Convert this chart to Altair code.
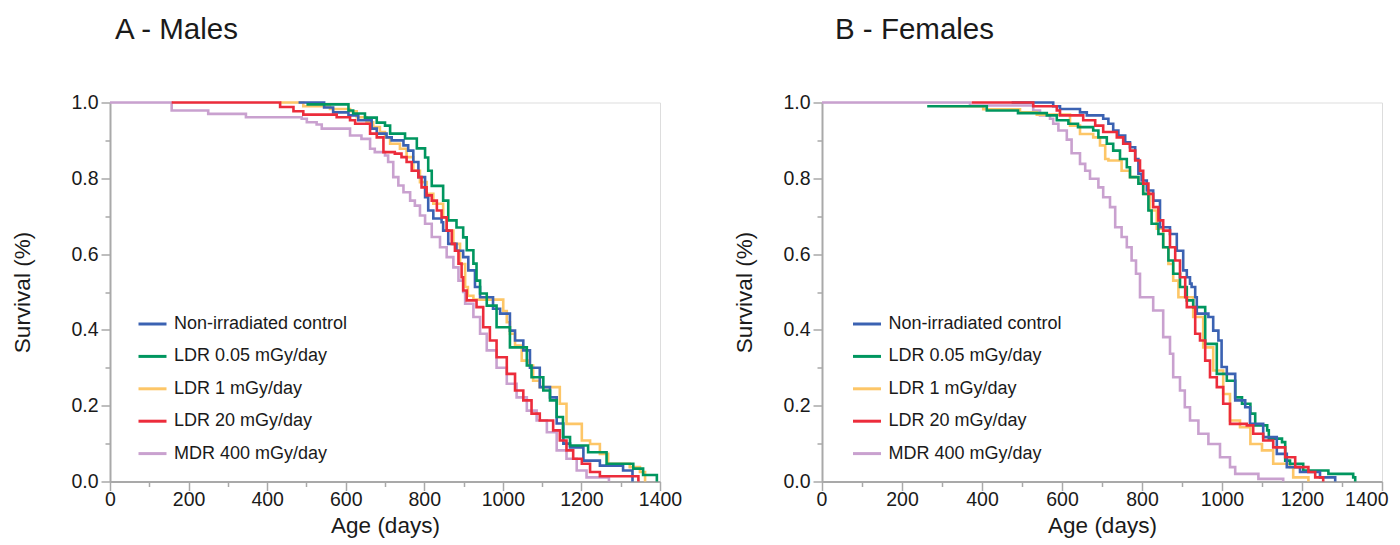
import altair as alt
import pandas as pd

GROUPS = ["Non-irradiated control", "LDR 0.05 mGy/day", "LDR 1 mGy/day",
          "LDR 20 mGy/day", "MDR 400 mGy/day"]
COLORS = ["#3b62b2", "#00965f", "#fdc667", "#ec2c3b", "#c9a1cf"]

# ---------------- Panel A - Males ----------------
A_CTRL_DAY = [480, 545, 568, 607, 632, 666, 679, 704, 717, 747, 759, 772, 785, 802, 810, 823, 844, 848, 861, 882, 899, 912, 929, 942, 975, 993, 1018, 1031, 1052, 1069, 1094, 1120, 1137, 1154, 1171, 1205, 1247, 1306, 1330]
A_CTRL_SURV = [1.0, 0.987, 0.974, 0.966, 0.953, 0.931, 0.918, 0.908, 0.9, 0.887, 0.873, 0.843, 0.803, 0.75, 0.715, 0.694, 0.684, 0.662, 0.627, 0.609, 0.592, 0.557, 0.513, 0.486, 0.456, 0.443, 0.398, 0.372, 0.346, 0.30, 0.249, 0.222, 0.153, 0.10, 0.09, 0.055, 0.042, 0.029, 0.0]

A_LDR005_DAY = [500, 607, 619, 649, 679, 700, 713, 751, 781, 802, 810, 819, 848, 861, 882, 899, 908, 925, 933, 942, 959, 984, 1018, 1061, 1073, 1103, 1120, 1137, 1153, 1171, 1217, 1264, 1332, 1357, 1392]
A_LDR005_SURV = [0.995, 0.979, 0.971, 0.96, 0.947, 0.939, 0.918, 0.905, 0.879, 0.855, 0.82, 0.78, 0.741, 0.689, 0.67, 0.644, 0.61, 0.575, 0.53, 0.496, 0.464, 0.407, 0.354, 0.306, 0.275, 0.24, 0.214, 0.17, 0.117, 0.095, 0.077, 0.047, 0.034, 0.017, 0.0]

A_LDR1_DAY = [433, 492, 560, 611, 628, 653, 670, 687, 700, 713, 738, 755, 772, 789, 806, 823, 848, 857, 874, 891, 904, 911, 925, 1001, 1010, 1018, 1031, 1048, 1065, 1077, 1094, 1145, 1162, 1201, 1222, 1247, 1268, 1323, 1349, 1362]
A_LDR1_SURV = [1.0, 0.99, 0.983, 0.977, 0.961, 0.948, 0.935, 0.922, 0.908, 0.891, 0.878, 0.856, 0.82, 0.79, 0.759, 0.733, 0.697, 0.662, 0.627, 0.574, 0.513, 0.49, 0.48, 0.45, 0.42, 0.39, 0.359, 0.319, 0.306, 0.266, 0.249, 0.205, 0.152, 0.108, 0.099, 0.073, 0.047, 0.038, 0.025, 0.0]

A_LDR20_DAY = [157, 433, 467, 492, 577, 611, 624, 662, 679, 696, 725, 742, 755, 768, 785, 793, 806, 819, 832, 844, 857, 870, 878, 887, 895, 899, 908, 933, 950, 967, 984, 1010, 1031, 1052, 1073, 1094, 1128, 1145, 1162, 1179, 1201, 1222, 1247, 1345]
A_LDR20_SURV = [1.0, 0.988, 0.977, 0.968, 0.961, 0.953, 0.944, 0.918, 0.908, 0.869, 0.865, 0.856, 0.843, 0.82, 0.803, 0.776, 0.755, 0.741, 0.715, 0.697, 0.662, 0.627, 0.609, 0.575, 0.539, 0.504, 0.478, 0.46, 0.407, 0.372, 0.328, 0.284, 0.24, 0.214, 0.179, 0.161, 0.135, 0.108, 0.082, 0.06, 0.047, 0.025, 0.014, 0.0]

A_MDR400_DAY = [0, 157, 250, 346, 488, 501, 526, 539, 611, 640, 662, 674, 700, 708, 721, 734, 747, 764, 776, 789, 802, 819, 840, 857, 874, 887, 899, 904, 925, 942, 959, 984, 1010, 1035, 1061, 1086, 1112, 1137, 1162, 1188, 1213, 1270]
A_MDR400_SURV = [1.0, 0.979, 0.97, 0.961, 0.957, 0.948, 0.942, 0.931, 0.913, 0.904, 0.878, 0.869, 0.86, 0.843, 0.803, 0.781, 0.763, 0.741, 0.728, 0.702, 0.68, 0.645, 0.618, 0.592, 0.565, 0.53, 0.5, 0.469, 0.434, 0.39, 0.346, 0.30, 0.258, 0.222, 0.187, 0.161, 0.13, 0.082, 0.06, 0.029, 0.011, 0.0]

# ---------------- Panel B - Females ----------------
B_CTRL_DAY = [474, 578, 595, 645, 662, 703, 716, 728, 741, 758, 770, 783, 791, 799, 812, 828, 845, 870, 887, 903, 912, 920, 924, 933, 937, 966, 978, 991, 999, 1012, 1033, 1058, 1070, 1103, 1137, 1162, 1195, 1245, 1283]
B_CTRL_SURV = [1.0, 0.99, 0.983, 0.974, 0.966, 0.957, 0.944, 0.926, 0.913, 0.895, 0.882, 0.851, 0.812, 0.794, 0.768, 0.741, 0.671, 0.653, 0.609, 0.557, 0.539, 0.522, 0.513, 0.486, 0.443, 0.434, 0.398, 0.372, 0.302, 0.284, 0.214, 0.196, 0.152, 0.117, 0.073, 0.038, 0.025, 0.011, 0.0]

B_LDR005_DAY = [263, 412, 490, 562, 587, 616, 640, 678, 691, 712, 728, 745, 762, 770, 791, 803, 816, 824, 841, 853, 866, 878, 895, 912, 928, 958, 987, 1012, 1033, 1050, 1071, 1083, 1113, 1117, 1150, 1158, 1170, 1203, 1266, 1328, 1333]
B_LDR005_SURV = [0.99, 0.979, 0.972, 0.966, 0.953, 0.944, 0.935, 0.926, 0.908, 0.891, 0.873, 0.851, 0.829, 0.803, 0.786, 0.759, 0.715, 0.68, 0.653, 0.618, 0.583, 0.548, 0.513, 0.478, 0.46, 0.363, 0.284, 0.266, 0.222, 0.205, 0.179, 0.148, 0.135, 0.113, 0.104, 0.055, 0.047, 0.029, 0.02, 0.011, 0.0]

B_LDR1_DAY = [295, 403, 495, 537, 620, 645, 678, 695, 708, 716, 749, 770, 791, 803, 820, 837, 853, 866, 878, 891, 928, 953, 978, 1003, 1020, 1045, 1071, 1100, 1128, 1170, 1178, 1216]
B_LDR1_SURV = [0.99, 0.982, 0.974, 0.968, 0.939, 0.917, 0.908, 0.887, 0.851, 0.847, 0.82, 0.803, 0.786, 0.759, 0.715, 0.667, 0.618, 0.574, 0.53, 0.486, 0.434, 0.354, 0.293, 0.231, 0.161, 0.143, 0.099, 0.082, 0.047, 0.038, 0.011, 0.0]

B_LDR20_DAY = [374, 528, 587, 595, 653, 683, 703, 737, 753, 770, 783, 795, 803, 816, 828, 841, 853, 870, 883, 895, 908, 912, 933, 945, 958, 970, 987, 1003, 1020, 1062, 1078, 1103, 1128, 1158, 1183, 1216, 1233, 1253]
B_LDR20_SURV = [1.0, 0.99, 0.979, 0.966, 0.953, 0.939, 0.922, 0.908, 0.891, 0.873, 0.847, 0.82, 0.786, 0.759, 0.724, 0.689, 0.662, 0.618, 0.583, 0.539, 0.486, 0.46, 0.39, 0.372, 0.319, 0.275, 0.249, 0.205, 0.152, 0.148, 0.126, 0.108, 0.09, 0.064, 0.038, 0.025, 0.011, 0.0]

B_MDR400_DAY = [0, 370, 528, 545, 570, 578, 591, 612, 624, 645, 658, 670, 691, 703, 720, 733, 749, 762, 774, 785, 795, 828, 853, 870, 878, 895, 907, 920, 941, 966, 995, 1020, 1033, 1091, 1153]
B_MDR400_SURV = [1.0, 0.992, 0.979, 0.966, 0.957, 0.944, 0.926, 0.902, 0.866, 0.838, 0.82, 0.799, 0.776, 0.75, 0.724, 0.671, 0.645, 0.618, 0.583, 0.548, 0.486, 0.451, 0.381, 0.337, 0.275, 0.24, 0.196, 0.161, 0.126, 0.099, 0.064, 0.038, 0.02, 0.007, 0.0]

# draw order: purple underneath, red on top
SERIES_A = [(GROUPS[4], A_MDR400_DAY, A_MDR400_SURV), (GROUPS[2], A_LDR1_DAY, A_LDR1_SURV),
            (GROUPS[0], A_CTRL_DAY, A_CTRL_SURV), (GROUPS[1], A_LDR005_DAY, A_LDR005_SURV),
            (GROUPS[3], A_LDR20_DAY, A_LDR20_SURV)]
SERIES_B = [(GROUPS[4], B_MDR400_DAY, B_MDR400_SURV), (GROUPS[2], B_LDR1_DAY, B_LDR1_SURV),
            (GROUPS[1], B_LDR005_DAY, B_LDR005_SURV), (GROUPS[0], B_CTRL_DAY, B_CTRL_SURV),
            (GROUPS[3], B_LDR20_DAY, B_LDR20_SURV)]

FONT = "Liberation Sans"
AXIS_GREY = "#a9a9a9"
TEXT = "#1a1a1a"


def make_df(series):
    rows = []
    for k, (g, days, survs) in enumerate(series):
        for d, s in zip(days, survs):
            rows.append({"group": g, "day": d, "surv": s, "layer": k})
    return pd.DataFrame(rows)


def panel(series, title, width, legend_x, y_title_pad, flush_x, title_dx):
    df = make_df(series)
    x_extra = {"labelFlush": True, "labelFlushOffset": 6} if flush_x else {"labelFlush": False}
    x_axis = alt.Axis(
        values=list(range(0, 1401, 100)), format="d",
        labelExpr="datum.value % 200 === 0 ? datum.label : ''",
        tickSize={"condition": {"test": "datum.value % 200 === 0", "value": 9}, "value": 5},
        domainColor=AXIS_GREY, domainWidth=2, tickColor=AXIS_GREY, tickWidth=1.5,
        labelFont=FONT, labelFontSize=19.5, labelColor=TEXT, labelPadding=0,
        titleFont=FONT, titleFontSize=22.5, titleFontWeight="normal", titleColor=TEXT,
        titlePadding=5, grid=False, **x_extra,
    )
    y_axis = alt.Axis(
        values=[0, 0.1, 0.2, 0.3, 0.4, 0.5, 0.6, 0.7, 0.8, 0.9, 1.0], format=".1f", labelFlush=False,
        labelExpr="round(datum.value * 10) % 2 === 0 ? datum.label : ''",
        tickSize={"condition": {"test": "round(datum.value * 10) % 2 === 0", "value": 9}, "value": 5},
        domainColor=AXIS_GREY, domainWidth=2, tickColor=AXIS_GREY, tickWidth=1.5,
        labelFont=FONT, labelFontSize=19.5, labelColor=TEXT, labelPadding=3,
        titleFont=FONT, titleFontSize=22.5, titleFontWeight="normal", titleColor=TEXT,
        titlePadding=y_title_pad, grid=False,
    )
    legend = alt.Legend(
        orient="none", legendX=legend_x, legendY=206, title=None,
        symbolType="stroke", symbolSize=784, symbolStrokeWidth=3,
        labelFont=FONT, labelFontSize=18, labelColor=TEXT, labelOffset=6,
        labelLimit=400, rowPadding=7.4, padding=0,
    )
    return alt.Chart(df).mark_line(interpolate="step-after", strokeWidth=2.6).encode(
        x=alt.X("day:Q", title="Age (days)", scale=alt.Scale(domain=[0, 1400], nice=False), axis=x_axis),
        y=alt.Y("surv:Q", title="Survival (%)", scale=alt.Scale(domain=[0, 1], nice=False), axis=y_axis),
        color=alt.Color("group:N", scale=alt.Scale(domain=GROUPS, range=COLORS), legend=legend),
        detail="layer:O",
        order=alt.Order("day:Q"),
    ).properties(
        width=width, height=379,
        title=alt.TitleParams(title, anchor="start", frame="group", font=FONT, fontSize=29.5,
                              fontWeight="normal", color=TEXT, offset=47.5, dx=title_dx),
    )


chart = alt.hconcat(
    panel(SERIES_A, "A - Males", 550, 27, 36, False, 5),
    panel(SERIES_B, "B - Females", 560, 29.5, 26, True, 13),
    spacing=50,
).resolve_legend(color="independent").properties(
    padding={"left": 3, "top": 5.5, "right": 0, "bottom": 0}
).configure_view(stroke=None).configure(font=FONT, background="white")

chart.save("out.html", embed_options={"renderer": "svg", "actions": False})
